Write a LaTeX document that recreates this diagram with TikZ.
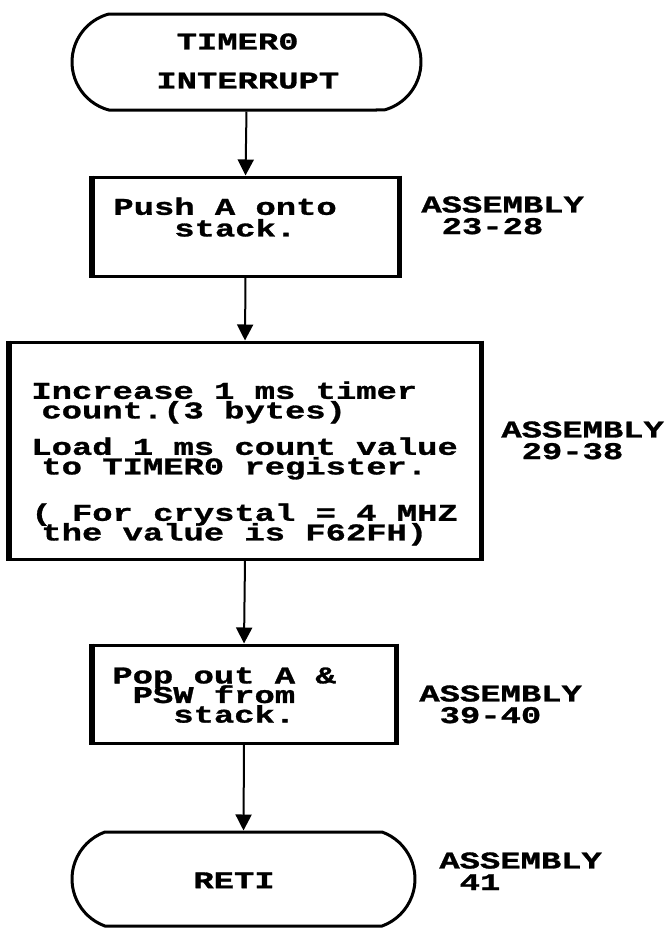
\documentclass[tikz,border=0pt]{standalone}
\usepackage{fontspec}
\usepackage{tikz}
\usetikzlibrary{arrows.meta,positioning,shapes.misc}
\newfontfamily\scanfont[FakeStretch=1.41,FakeBold=1.2]{Liberation Mono}
\newcommand{\blank}{\phantom{X}}
\newcommand{\tightlines}{\lineskiplimit=-20pt\relax}

\begin{document}
\begin{tikzpicture}[x=0.5pt,y=-0.5pt,>={Triangle[width=8pt,length=8pt]},
    box/.style={draw,line width=1.5pt,inner sep=0pt},
    term/.style={draw,line width=1.5pt,rounded rectangle,inner sep=0pt},
    txt/.style={inner sep=0pt,anchor=north west,align=left,
      font={\scanfont\bfseries\fontsize{12}{#1}\selectfont\tightlines}},
    txt/.default=10.8pt,
    flow/.style={->,line width=1pt}]
  \useasboundingbox (0,0) rectangle (666,928);
  % terminals and process boxes
  \node[term,rounded rectangle arc length=150,minimum width=174.5pt,minimum height=48pt] (intr) at (246.5,62) {};
  \node[box,minimum width=152.5pt,minimum height=49.5pt] (push) at (245.5,226.5) {};
  \node[box,minimum width=235pt,minimum height=108.5pt] (incr) at (245,450.5) {};
  \node[box,minimum width=151pt,minimum height=49pt] (pop) at (244,694) {};
  \node[term,rounded rectangle arc length=140,minimum width=171.5pt,minimum height=47pt] (reti) at (243.5,879) {};
  % heavier side walls of the boxes
  \foreach \b in {push,incr,pop}
    \draw[line width=2.5pt] (\b.north west) -- (\b.south west) (\b.north east) -- (\b.south east);
  % texts inside
  \node[txt=19.5pt] (intr-t) at (156,33) {\blank TIMER0\\INTERRUPT};
  \node[txt] (push-t) at (113,197) {Push A onto\\\blank\blank\blank stack.};
  \node[txt=9.8pt] (incr-t) at (31,381) {Increase 1 ms timer\\
    \hspace*{5pt}count.(3 bytes)\\[8.4pt]
    Load 1 ms count value\\
    \hspace*{5pt}to TIMER0 register.\\[13.4pt]
    ( For crystal = 4 MHZ\\
    \hspace*{5pt}the value is F62FH)};
  \node[txt=9.8pt] (pop-t) at (112,667) {Pop out A \&\\\blank PSW from\\\blank\blank\blank stack.};
  \node[txt] (reti-t) at (193,872) {RETI};
  % assembly line refs
  \node[txt] (asm1) at (421,196) {ASSEMBLY\\\blank 23-28};
  \node[txt] (asm2) at (501,421) {ASSEMBLY\\\blank 29-38};
  \node[txt] (asm3) at (419,685) {ASSEMBLY\\\blank 39-40};
  \node[txt] (asm4) at (439,852) {ASSEMBLY\\\blank 41};
  % flow
  \draw[flow] (intr.south) -- (push.north);
  \draw[flow] (push.south) -- (incr.north);
  \draw[flow] (incr.south) -- (pop.north);
  \draw[flow] (pop.south) -- (reti.north);
\end{tikzpicture}
\end{document}
